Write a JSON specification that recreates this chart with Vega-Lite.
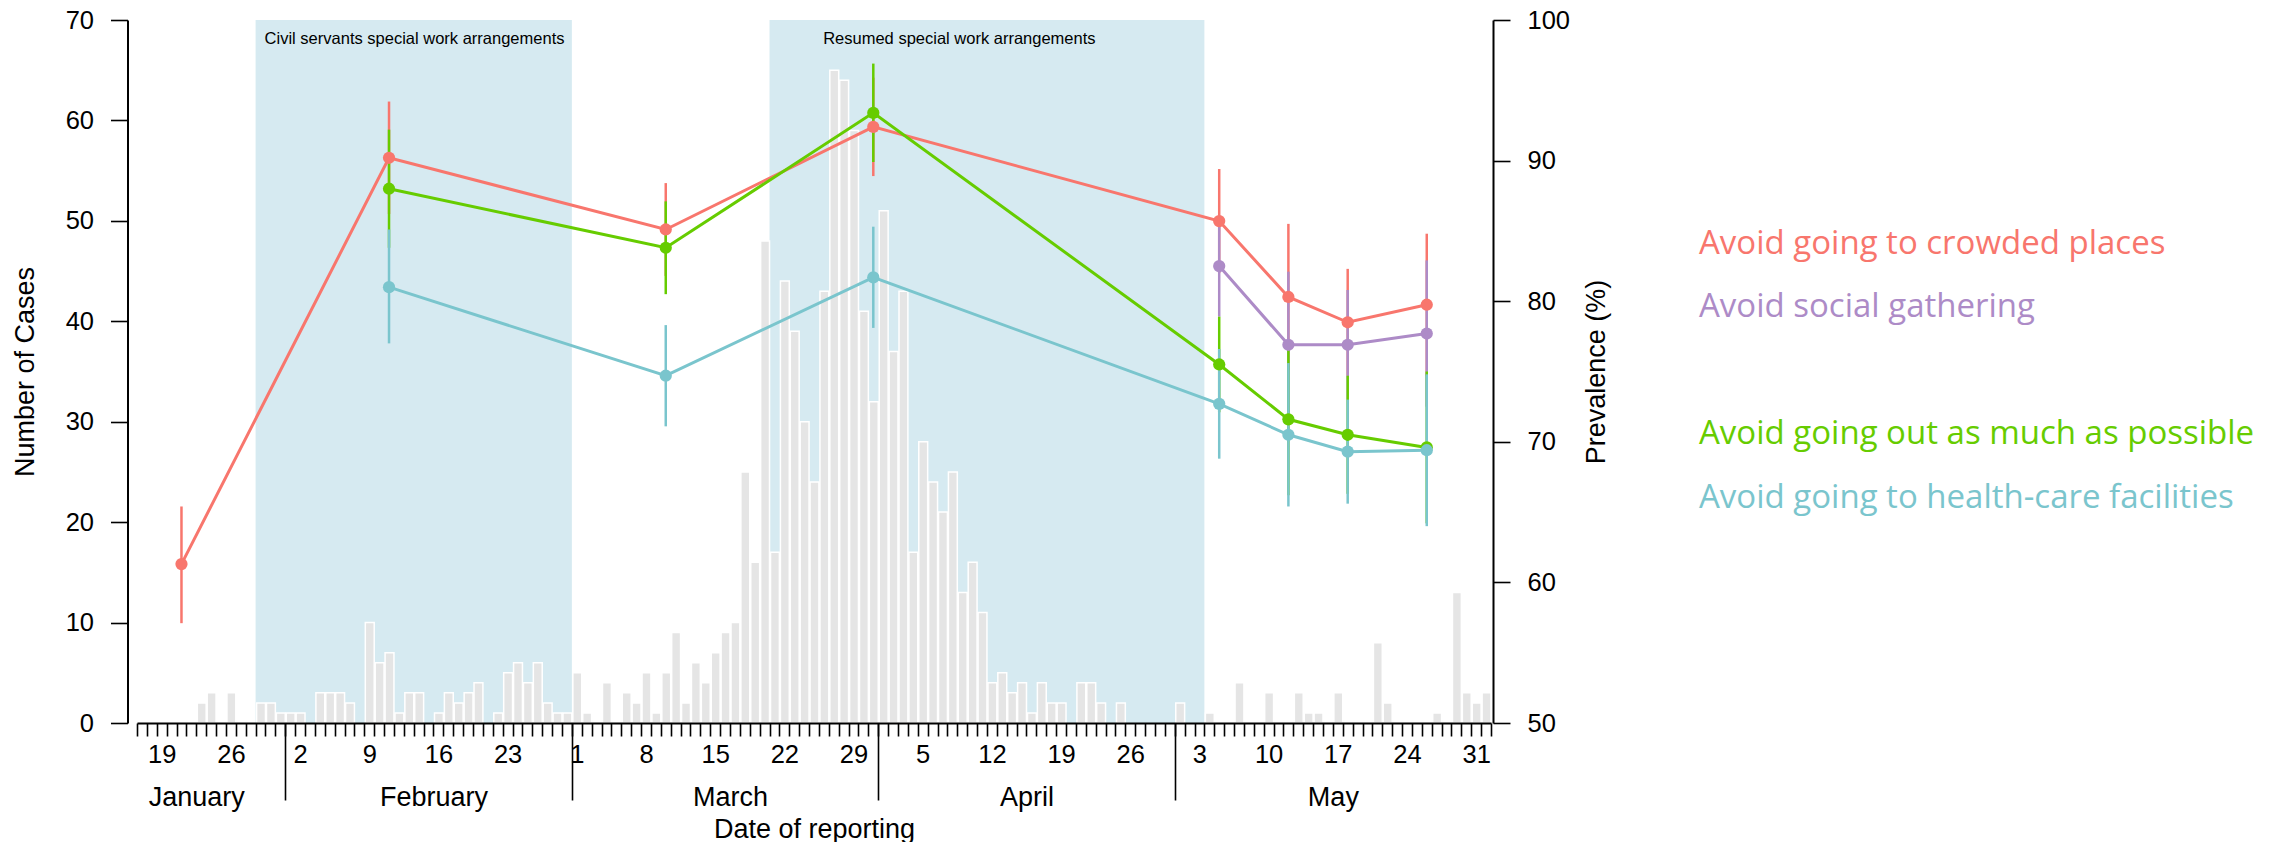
{
  "$schema": "https://vega.github.io/schema/vega-lite/v6.json",
  "width": 1354,
  "height": 703,
  "autosize": {"type": "none"},
  "padding": {"left": 137, "top": 20, "right": 779, "bottom": 119},
  "background": "white",
  "config": {
    "view": {"stroke": null},
    "font": "Liberation Sans",
    "axis": {
      "grid": false,
      "domainColor": "black",
      "domainWidth": 2,
      "tickColor": "black",
      "tickWidth": 1.6,
      "labelColor": "black",
      "titleColor": "black",
      "labelFont": "Liberation Sans",
      "titleFont": "Liberation Sans",
      "titleFontWeight": "normal",
      "labelFontSize": 25.5,
      "titleFontSize": 27
    }
  },
  "datasets": {
    "cases": [
      {"date": "2020-01-23", "cases": 2}, {"date": "2020-01-24", "cases": 3}, {"date": "2020-01-26", "cases": 3},
      {"date": "2020-01-29", "cases": 2}, {"date": "2020-01-30", "cases": 2}, {"date": "2020-01-31", "cases": 1},
      {"date": "2020-02-01", "cases": 1}, {"date": "2020-02-02", "cases": 1}, {"date": "2020-02-04", "cases": 3},
      {"date": "2020-02-05", "cases": 3}, {"date": "2020-02-06", "cases": 3}, {"date": "2020-02-07", "cases": 2},
      {"date": "2020-02-09", "cases": 10}, {"date": "2020-02-10", "cases": 6}, {"date": "2020-02-11", "cases": 7},
      {"date": "2020-02-12", "cases": 1}, {"date": "2020-02-13", "cases": 3}, {"date": "2020-02-14", "cases": 3},
      {"date": "2020-02-16", "cases": 1}, {"date": "2020-02-17", "cases": 3}, {"date": "2020-02-18", "cases": 2},
      {"date": "2020-02-19", "cases": 3}, {"date": "2020-02-20", "cases": 4}, {"date": "2020-02-22", "cases": 1},
      {"date": "2020-02-23", "cases": 5}, {"date": "2020-02-24", "cases": 6}, {"date": "2020-02-25", "cases": 4},
      {"date": "2020-02-26", "cases": 6}, {"date": "2020-02-27", "cases": 2}, {"date": "2020-02-28", "cases": 1},
      {"date": "2020-02-29", "cases": 1}, {"date": "2020-03-01", "cases": 5}, {"date": "2020-03-02", "cases": 1},
      {"date": "2020-03-04", "cases": 4}, {"date": "2020-03-06", "cases": 3}, {"date": "2020-03-07", "cases": 2},
      {"date": "2020-03-08", "cases": 5}, {"date": "2020-03-09", "cases": 1}, {"date": "2020-03-10", "cases": 5},
      {"date": "2020-03-11", "cases": 9}, {"date": "2020-03-12", "cases": 2}, {"date": "2020-03-13", "cases": 6},
      {"date": "2020-03-14", "cases": 4}, {"date": "2020-03-15", "cases": 7}, {"date": "2020-03-16", "cases": 9},
      {"date": "2020-03-17", "cases": 10}, {"date": "2020-03-18", "cases": 25}, {"date": "2020-03-19", "cases": 16},
      {"date": "2020-03-20", "cases": 48}, {"date": "2020-03-21", "cases": 17}, {"date": "2020-03-22", "cases": 44},
      {"date": "2020-03-23", "cases": 39}, {"date": "2020-03-24", "cases": 30}, {"date": "2020-03-25", "cases": 24},
      {"date": "2020-03-26", "cases": 43}, {"date": "2020-03-27", "cases": 65}, {"date": "2020-03-28", "cases": 64},
      {"date": "2020-03-29", "cases": 59}, {"date": "2020-03-30", "cases": 41}, {"date": "2020-03-31", "cases": 32},
      {"date": "2020-04-01", "cases": 51}, {"date": "2020-04-02", "cases": 37}, {"date": "2020-04-03", "cases": 43},
      {"date": "2020-04-04", "cases": 17}, {"date": "2020-04-05", "cases": 28}, {"date": "2020-04-06", "cases": 24},
      {"date": "2020-04-07", "cases": 21}, {"date": "2020-04-08", "cases": 25}, {"date": "2020-04-09", "cases": 13},
      {"date": "2020-04-10", "cases": 16}, {"date": "2020-04-11", "cases": 11}, {"date": "2020-04-12", "cases": 4},
      {"date": "2020-04-13", "cases": 5}, {"date": "2020-04-14", "cases": 3}, {"date": "2020-04-15", "cases": 4},
      {"date": "2020-04-16", "cases": 1}, {"date": "2020-04-17", "cases": 4}, {"date": "2020-04-18", "cases": 2},
      {"date": "2020-04-19", "cases": 2}, {"date": "2020-04-21", "cases": 4}, {"date": "2020-04-22", "cases": 4},
      {"date": "2020-04-23", "cases": 2}, {"date": "2020-04-25", "cases": 2}, {"date": "2020-05-01", "cases": 2},
      {"date": "2020-05-04", "cases": 1}, {"date": "2020-05-07", "cases": 4}, {"date": "2020-05-10", "cases": 3},
      {"date": "2020-05-13", "cases": 3}, {"date": "2020-05-14", "cases": 1}, {"date": "2020-05-15", "cases": 1},
      {"date": "2020-05-17", "cases": 3}, {"date": "2020-05-21", "cases": 8}, {"date": "2020-05-22", "cases": 2},
      {"date": "2020-05-27", "cases": 1}, {"date": "2020-05-29", "cases": 13}, {"date": "2020-05-30", "cases": 3},
      {"date": "2020-05-31", "cases": 2}, {"date": "2020-06-01", "cases": 3}
    ],
    "periods": [
      {"start": "2020-01-29", "end": "2020-03-01", "mid": "2020-02-14T02:00:00Z", "label": "Civil servants special work arrangements"},
      {"start": "2020-03-21", "end": "2020-05-04", "mid": "2020-04-09T05:00:00Z", "label": "Resumed special work arrangements"}
    ],
    "survey": [
      {"date": "2020-01-21T12:00:00Z", "series": "Avoid going to crowded places", "value": 61.3, "lo": 57.1, "hi": 65.4},
      {"date": "2020-02-11T12:00:00Z", "series": "Avoid going to crowded places", "value": 90.2, "lo": 86.2, "hi": 94.2},
      {"date": "2020-03-10T12:00:00Z", "series": "Avoid going to crowded places", "value": 85.1, "lo": 81.8, "hi": 88.4},
      {"date": "2020-03-31T12:00:00Z", "series": "Avoid going to crowded places", "value": 92.4, "lo": 88.9, "hi": 95.9},
      {"date": "2020-05-05T12:00:00Z", "series": "Avoid going to crowded places", "value": 85.7, "lo": 82.0, "hi": 89.4},
      {"date": "2020-05-12T12:00:00Z", "series": "Avoid going to crowded places", "value": 80.3, "lo": 75.1, "hi": 85.5},
      {"date": "2020-05-18T12:00:00Z", "series": "Avoid going to crowded places", "value": 78.5, "lo": 74.7, "hi": 82.3},
      {"date": "2020-05-26T12:00:00Z", "series": "Avoid going to crowded places", "value": 79.75, "lo": 74.7, "hi": 84.8},
      {"date": "2020-05-05T12:00:00Z", "series": "Avoid social gathering", "value": 82.5, "lo": 78.9, "hi": 86.1},
      {"date": "2020-05-12T12:00:00Z", "series": "Avoid social gathering", "value": 76.9, "lo": 71.7, "hi": 82.1},
      {"date": "2020-05-18T12:00:00Z", "series": "Avoid social gathering", "value": 76.9, "lo": 73.0, "hi": 80.8},
      {"date": "2020-05-26T12:00:00Z", "series": "Avoid social gathering", "value": 77.7, "lo": 72.5, "hi": 82.9},
      {"date": "2020-02-11T12:00:00Z", "series": "Avoid going out as much as possible", "value": 88.0, "lo": 83.8, "hi": 92.2},
      {"date": "2020-03-10T12:00:00Z", "series": "Avoid going out as much as possible", "value": 83.8, "lo": 80.5, "hi": 87.1},
      {"date": "2020-03-31T12:00:00Z", "series": "Avoid going out as much as possible", "value": 93.4, "lo": 89.9, "hi": 96.9},
      {"date": "2020-05-05T12:00:00Z", "series": "Avoid going out as much as possible", "value": 75.5, "lo": 72.1, "hi": 78.9},
      {"date": "2020-05-12T12:00:00Z", "series": "Avoid going out as much as possible", "value": 71.6, "lo": 66.2, "hi": 77.0},
      {"date": "2020-05-18T12:00:00Z", "series": "Avoid going out as much as possible", "value": 70.5, "lo": 66.3, "hi": 74.7},
      {"date": "2020-05-26T12:00:00Z", "series": "Avoid going out as much as possible", "value": 69.6, "lo": 64.2, "hi": 75.0},
      {"date": "2020-02-11T12:00:00Z", "series": "Avoid going to health-care facilities", "value": 81.0, "lo": 77.0, "hi": 85.1},
      {"date": "2020-03-10T12:00:00Z", "series": "Avoid going to health-care facilities", "value": 74.7, "lo": 71.1, "hi": 78.3},
      {"date": "2020-03-31T12:00:00Z", "series": "Avoid going to health-care facilities", "value": 81.7, "lo": 78.1, "hi": 85.3},
      {"date": "2020-05-05T12:00:00Z", "series": "Avoid going to health-care facilities", "value": 72.7, "lo": 68.8, "hi": 76.6},
      {"date": "2020-05-12T12:00:00Z", "series": "Avoid going to health-care facilities", "value": 70.5, "lo": 65.4, "hi": 75.6},
      {"date": "2020-05-18T12:00:00Z", "series": "Avoid going to health-care facilities", "value": 69.3, "lo": 65.6, "hi": 73.0},
      {"date": "2020-05-26T12:00:00Z", "series": "Avoid going to health-care facilities", "value": 69.4, "lo": 64.0, "hi": 74.8}
    ]
  },
  "layer": [
    {
      "layer": [
        {
          "data": {"name": "periods"},
          "mark": {"type": "rect", "color": "#D6EAF1"},
          "encoding": {
            "x": {
              "field": "start", "type": "temporal",
              "axis": {
                "orient": "bottom",
                "values": [
                  {"year": 2020, "month": 2, "date": 1, "utc": true},
                  {"year": 2020, "month": 3, "date": 1, "utc": true},
                  {"year": 2020, "month": 4, "date": 1, "utc": true},
                  {"year": 2020, "month": 5, "date": 1, "utc": true}
                ],
                "tickSize": 77, "labels": false, "domain": false, "title": null, "zindex": 1
              }
            },
            "x2": {"field": "end"}
          }
        },
        {
          "data": {"name": "periods"},
          "mark": {"type": "text", "font": "Liberation Sans", "fontSize": 16.5, "color": "black", "baseline": "middle", "align": "center"},
          "encoding": {
            "x": {
              "field": "mid", "type": "temporal",
              "axis": {
                "orient": "bottom",
                "values": [
                  {"year": 2020, "month": 1, "date": 23, "utc": true},
                  {"year": 2020, "month": 2, "date": 16, "utc": true},
                  {"year": 2020, "month": 3, "date": 17, "utc": true},
                  {"year": 2020, "month": 4, "date": 16, "utc": true},
                  {"year": 2020, "month": 5, "date": 17, "utc": true}
                ],
                "labelExpr": "utcFormat(datum.value, '%B')",
                "ticks": false, "domain": false,
                "labelPadding": 61, "labelFontSize": 27, "labelOverlap": false,
                "title": "Date of reporting", "titlePadding": 6
              }
            },
            "y": {"datum": 68.1},
            "text": {"field": "label"}
          }
        },
        {
          "data": {"name": "cases"},
          "mark": {"type": "bar", "color": "#E5E5E5", "stroke": "white", "strokeWidth": 1.5},
          "encoding": {
            "x": {
              "field": "date", "type": "temporal", "timeUnit": "utcyearmonthdate",
              "scale": {"type": "utc", "domain": [{"year": 2020, "month": 1, "date": 17, "utc": true}, {"year": 2020, "month": 6, "date": 2, "utc": true}]},
              "axis": {
                "orient": "bottom",
                "zindex": 1,
                "tickCount": {"interval": "day", "step": 1},
                "tickSize": 13,
                "labelExpr": "utcday(datum.value) === 0 ? '' + utcdate(datum.value) : ''",
                "labelOffset": 4.94,
                "labelPadding": 6,
                "labelOverlap": false,
                "labelFlush": false,
                "title": null
              }
            },
            "y": {
              "field": "cases", "type": "quantitative",
              "scale": {"domain": [0, 70], "nice": false},
              "axis": {
                "orient": "left", "offset": 9.5, "zindex": 1,
                "values": [0, 10, 20, 30, 40, 50, 60, 70],
                "tickSize": 17, "labelPadding": 17,
                "title": "Number of Cases", "titlePadding": 26
              }
            }
          }
        }
      ],
      "resolve": {"axis": {"x": "independent"}}
    },
    {
      "data": {"name": "survey"},
      "encoding": {
        "x": {"field": "date", "type": "temporal", "axis": null},
        "color": {
          "field": "series", "type": "nominal",
          "scale": {
            "domain": ["Avoid going to crowded places", "Avoid social gathering", " ", "Avoid going out as much as possible", "Avoid going to health-care facilities"],
            "range": ["#F8766D", "#AD8BC7", "#FFFFFF", "#66CC00", "#7AC5CD"]
          },
          "legend": {
            "orient": "none", "legendX": 1529, "legendY": 207,
            "title": null,
            "values": ["Avoid going to crowded places", "Avoid social gathering", " ", "Avoid going out as much as possible", "Avoid going to health-care facilities"],
            "symbolOpacity": 0, "symbolSize": 0, "symbolStrokeWidth": 0,
            "labelFont": "Open Sans", "labelFontSize": 33, "labelOffset": 0, "labelLimit": 1000,
            "rowPadding": 29.5,
            "encode": {"labels": {"update": {"fill": {"scale": "color", "field": "value"}}}}
          }
        }
      },
      "layer": [
        {
          "mark": {"type": "rule", "strokeWidth": 2.5},
          "encoding": {
            "y": {
              "field": "lo", "type": "quantitative",
              "scale": {"domain": [50, 100], "nice": false, "zero": false},
              "axis": {
                "orient": "right", "offset": 2, "zindex": 1,
                "values": [50, 60, 70, 80, 90, 100],
                "tickSize": 17, "labelPadding": 17,
                "title": "Prevalence (%)", "titleAngle": -90, "titleBaseline": "top", "titlePadding": 14
              }
            },
            "y2": {"field": "hi"}
          }
        },
        {
          "mark": {"type": "line", "strokeWidth": 3},
          "encoding": {
            "y": {"field": "value", "type": "quantitative"}
          }
        },
        {
          "mark": {"type": "point", "filled": true, "shape": "circle", "size": 150, "opacity": 1},
          "encoding": {
            "y": {"field": "value", "type": "quantitative"}
          }
        }
      ]
    }
  ],
  "resolve": {"scale": {"y": "independent"}, "axis": {"x": "independent"}}
}
